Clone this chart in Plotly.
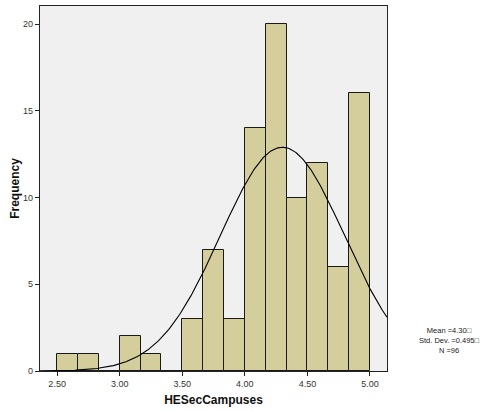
import numpy as np
import plotly.graph_objects as go

bin_starts = [2.5, 2.6667, 2.8333, 3.0, 3.1667, 3.3333, 3.5, 3.6667, 3.8333,
              4.0, 4.1667, 4.3333, 4.5, 4.6667, 4.8333]
counts = [1, 1, 0, 2, 1, 0, 3, 7, 3, 14, 20, 10, 12, 6, 16]
bin_width = 1 / 6
mean_val = 4.30
sd_val = 0.495
n_val = 96
x_ticks = [2.5, 3.0, 3.5, 4.0, 4.5, 5.0]
y_ticks = [0, 5, 10, 15, 20]

centers = [s + bin_width / 2 for s in bin_starts]

xr = [2.363, 5.136]
xs = np.linspace(xr[0], xr[1], 300)
ys = n_val * bin_width / (sd_val * np.sqrt(2 * np.pi)) * np.exp(-0.5 * ((xs - mean_val) / sd_val) ** 2)

fig = go.Figure()
fig.add_trace(go.Bar(
    x=centers, y=counts, width=bin_width,
    marker=dict(color="#d3ce9b", line=dict(color="#1a1a1a", width=1)),
    hoverinfo="skip",
))
fig.add_trace(go.Scatter(
    x=xs, y=ys, mode="lines", line=dict(color="black", width=1.1),
    hoverinfo="skip",
))

fig.update_layout(
    width=494, height=411,
    margin=dict(l=40, r=107, t=6, b=40),
    paper_bgcolor="white",
    plot_bgcolor="#f0f0f0",
    showlegend=False,
    bargap=0,
    font=dict(family="Liberation Sans, Arial, sans-serif", color="#333333"),
    xaxis=dict(
        range=xr, tickvals=x_ticks, ticktext=[f"{v:.2f}" for v in x_ticks],
        ticks="outside", ticklen=4, tickcolor="#222222", tickwidth=1,
        showline=True, linecolor="#222222", linewidth=1.3, mirror=True,
        showgrid=False, zeroline=False,
        tickfont=dict(size=9, color="#333333"),
        title=dict(text="<b>HESecCampuses</b>", font=dict(size=12, color="#111111"), standoff=7),
    ),
    yaxis=dict(
        range=[0, 21.04], tickvals=y_ticks,
        ticks="outside", ticklen=4, tickcolor="#222222", tickwidth=1,
        showline=True, linecolor="#222222", linewidth=1.3, mirror=True,
        showgrid=False, zeroline=False,
        tickfont=dict(size=9, color="#333333"),
        title=dict(text="<b>Frequency</b>", font=dict(size=12, color="#111111"), standoff=0),
    ),
)

stat_text = f"Mean ={mean_val:.2f}\u25a1<br>Std. Dev. ={sd_val:.3f}\u25a1<br>N ={n_val}"
fig.add_annotation(
    xref="paper", yref="paper", x=(449 - 40) / 347, y=(371 - 340) / 365,
    text=stat_text, showarrow=False, align="center", xanchor="center", yanchor="middle",
    font=dict(size=7.5, color="#222222"),
)

fig.write_html("out.html")
